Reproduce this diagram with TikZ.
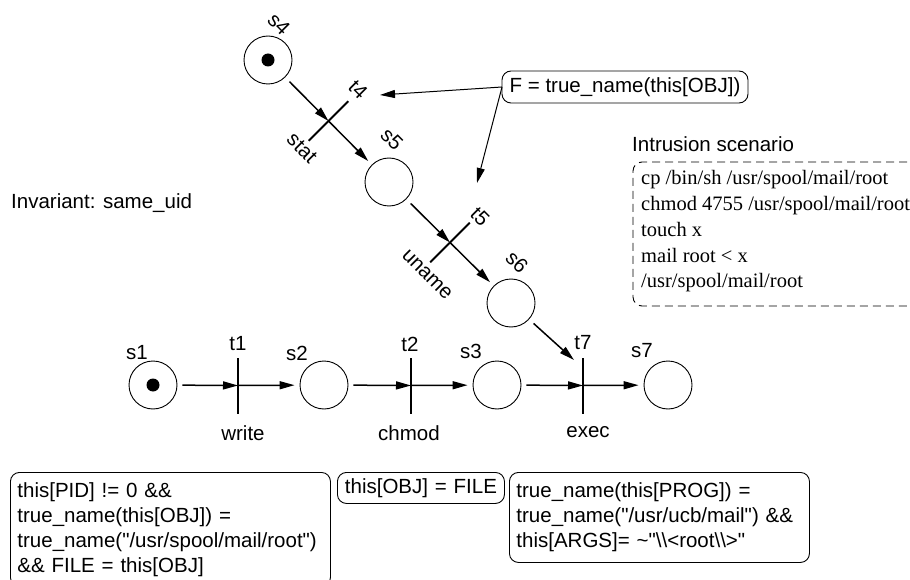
\documentclass[tikz,border=0pt]{standalone}
\usepackage{fontspec}
\setmainfont{Liberation Sans}[Ligatures=TeXOff]
\newfontfamily\scenfont{Liberation Serif}
\usetikzlibrary{arrows.meta}
\begin{document}
\begin{tikzpicture}[x=1pt,y=-1pt,
  place/.style={circle, draw, line width=0.9pt, minimum size=48pt, inner sep=0pt},
  token/.style={circle, fill=black, minimum size=13pt, inner sep=0pt},
  tbar/.style={rectangle, fill=black, minimum width=1.8pt, minimum height=56pt, inner sep=0pt, outer sep=0pt},
  lbl/.style={font=\fontsize{20.5}{25}\selectfont, inner sep=0pt},
  slbl/.style={font=\scenfont\fontsize{20.5}{25}\selectfont, inner sep=0pt, anchor=base west},
  arc/.style={line width=1.5pt, -{Triangle[length=15pt,width=8pt]}},
  ptr/.style={line width=1pt, -{Triangle[length=15pt,width=8pt]}},
  note/.style={draw, line width=0.9pt, rounded corners=9pt, inner xsep=7pt, inner ysep=0pt,
    anchor=north west, font=\fontsize{20.5}{25}\selectfont},
]
\useasboundingbox (0,0) rectangle (910,580);

% places
\node[place] (s1) at (153,385) {};
\node[place] (s2) at (324,385) {};
\node[place] (s3) at (497,385) {};
\node[place] (s7) at (668,385) {};
\node[place] (s4) at (268,60) {};
\node[place] (s5) at (389,182) {};
\node[place] (s6) at (511,303) {};
\node[token] (k1) at (s1) {};
\node[token] (k4) at (s4) {};

% transitions
\node[tbar] (t1) at (238,385.5) {};
\node[tbar] (t2) at (411,385.5) {};
\node[tbar] (t7) at (583,385.5) {};
\node[tbar, rotate=-45] (t4) at (328.5,121) {};
\node[tbar, rotate=-45] (t5) at (450,242.5) {};

% labels bottom row
\node[lbl] (ls1) at (137,353) {s1};
\node[lbl] (lt1) at (238,344) {t1};
\node[lbl] (ls2) at (297,353) {s2};
\node[lbl] (lt2) at (410,344) {t2};
\node[lbl] (ls3) at (471,351) {s3};
\node[lbl] (lt7) at (583,343) {t7};
\node[lbl] (ls7) at (642,351) {s7};
\node[lbl] (lw) at (243,433) {write};
\node[lbl] (lc) at (409,433) {chmod};
\node[lbl] (le) at (588,432) {exec};

% rotated labels
\node[lbl, rotate=-45] (ls4) at (279,24) {s4};
\node[lbl, rotate=-45] (lt4) at (358,90) {t4};
\node[lbl, rotate=-45] (lstat) at (302,148) {stat};
\node[lbl, rotate=-45] (ls5) at (392,139) {s5};
\node[lbl, rotate=-45] (lt5) at (480,217) {t5};
\node[lbl, rotate=-45] (lun) at (427,275) {uname};
\node[lbl, rotate=-45] (ls6) at (517,262) {s6};

% other texts
\node[lbl, anchor=base west] (inv) at (11,209) {Invariant: same\_uid};
\node[lbl, anchor=base west] (ih) at (632,152) {Intrusion scenario};
\node[slbl] (sc1) at (641,185) {cp /bin/sh /usr/spool/mail/root};
\node[slbl] (sc2) at (641,210.7) {chmod 4755 /usr/spool/mail/root};
\node[slbl] (sc3) at (641,236.4) {touch x};
\node[slbl] (sc4) at (641,262.1) {mail root < x};
\node[slbl] (sc5) at (641,287.8) {/usr/spool/mail/root};
\draw[line width=0.9pt, dash pattern=on 8pt off 5pt, rounded corners=9pt]
  (920,162) -- (633,162) -- (633,306) -- (920,306);

% F box
\node[note, anchor=center, minimum width=246pt, minimum height=32pt] (F) at (625,87) {F = true\_name(this[OBJ])};

% condition boxes
\node[note, minimum width=320pt, minimum height=114pt, text width=306pt, align=left] (c1) at (10,472)
  {this[PID] != 0 \&\&\\ true\_name(this[OBJ]) =\\ true\_name("/usr/spool/mail/root")\\ \&\& FILE = this[OBJ]};
\node[note, minimum width=167pt, minimum height=31pt, text width=153pt, align=center] (c2) at (337,472)
  {this[OBJ] = FILE};
\node[note, minimum width=300pt, minimum height=90pt, text width=286pt, align=left] (c3) at (509,472)
  {true\_name(this[PROG]) =\\ true\_name("/usr/ucb/mail") \&\&\\ this[ARGS]= \textasciitilde"\textbackslash\textbackslash<root\textbackslash\textbackslash>"};

% arcs
\draw[arc, shorten <=5pt] (s1) -- (t1.center);
\draw[arc, shorten >=5pt] (t1.center) -- (s2);
\draw[arc, shorten <=5pt] (s2) -- (t2.center);
\draw[arc, shorten >=5pt] (t2.center) -- (s3);
\draw[arc, shorten <=5pt] (s3) -- (t7.center);
\draw[arc, shorten >=5pt] (t7.center) -- (s7);
\draw[arc, shorten <=6pt] (s4) -- (t4.center);
\draw[arc, shorten >=5pt] (t4.center) -- (s5);
\draw[arc, shorten <=6pt] (s5) -- (t5.center);
\draw[arc, shorten >=5pt] (t5.center) -- (s6);
\coordinate (t7in) at (574,360);
\draw[arc, shorten <=6pt] (s6) -- (t7in);

% pointers from F
\coordinate (Fo) at (502,87);
\coordinate (p4) at (380,95);
\coordinate (p5) at (477,183);
\draw[ptr] (Fo) -- (p4);
\draw[ptr] (Fo) -- (p5);
\end{tikzpicture}
\end{document}
